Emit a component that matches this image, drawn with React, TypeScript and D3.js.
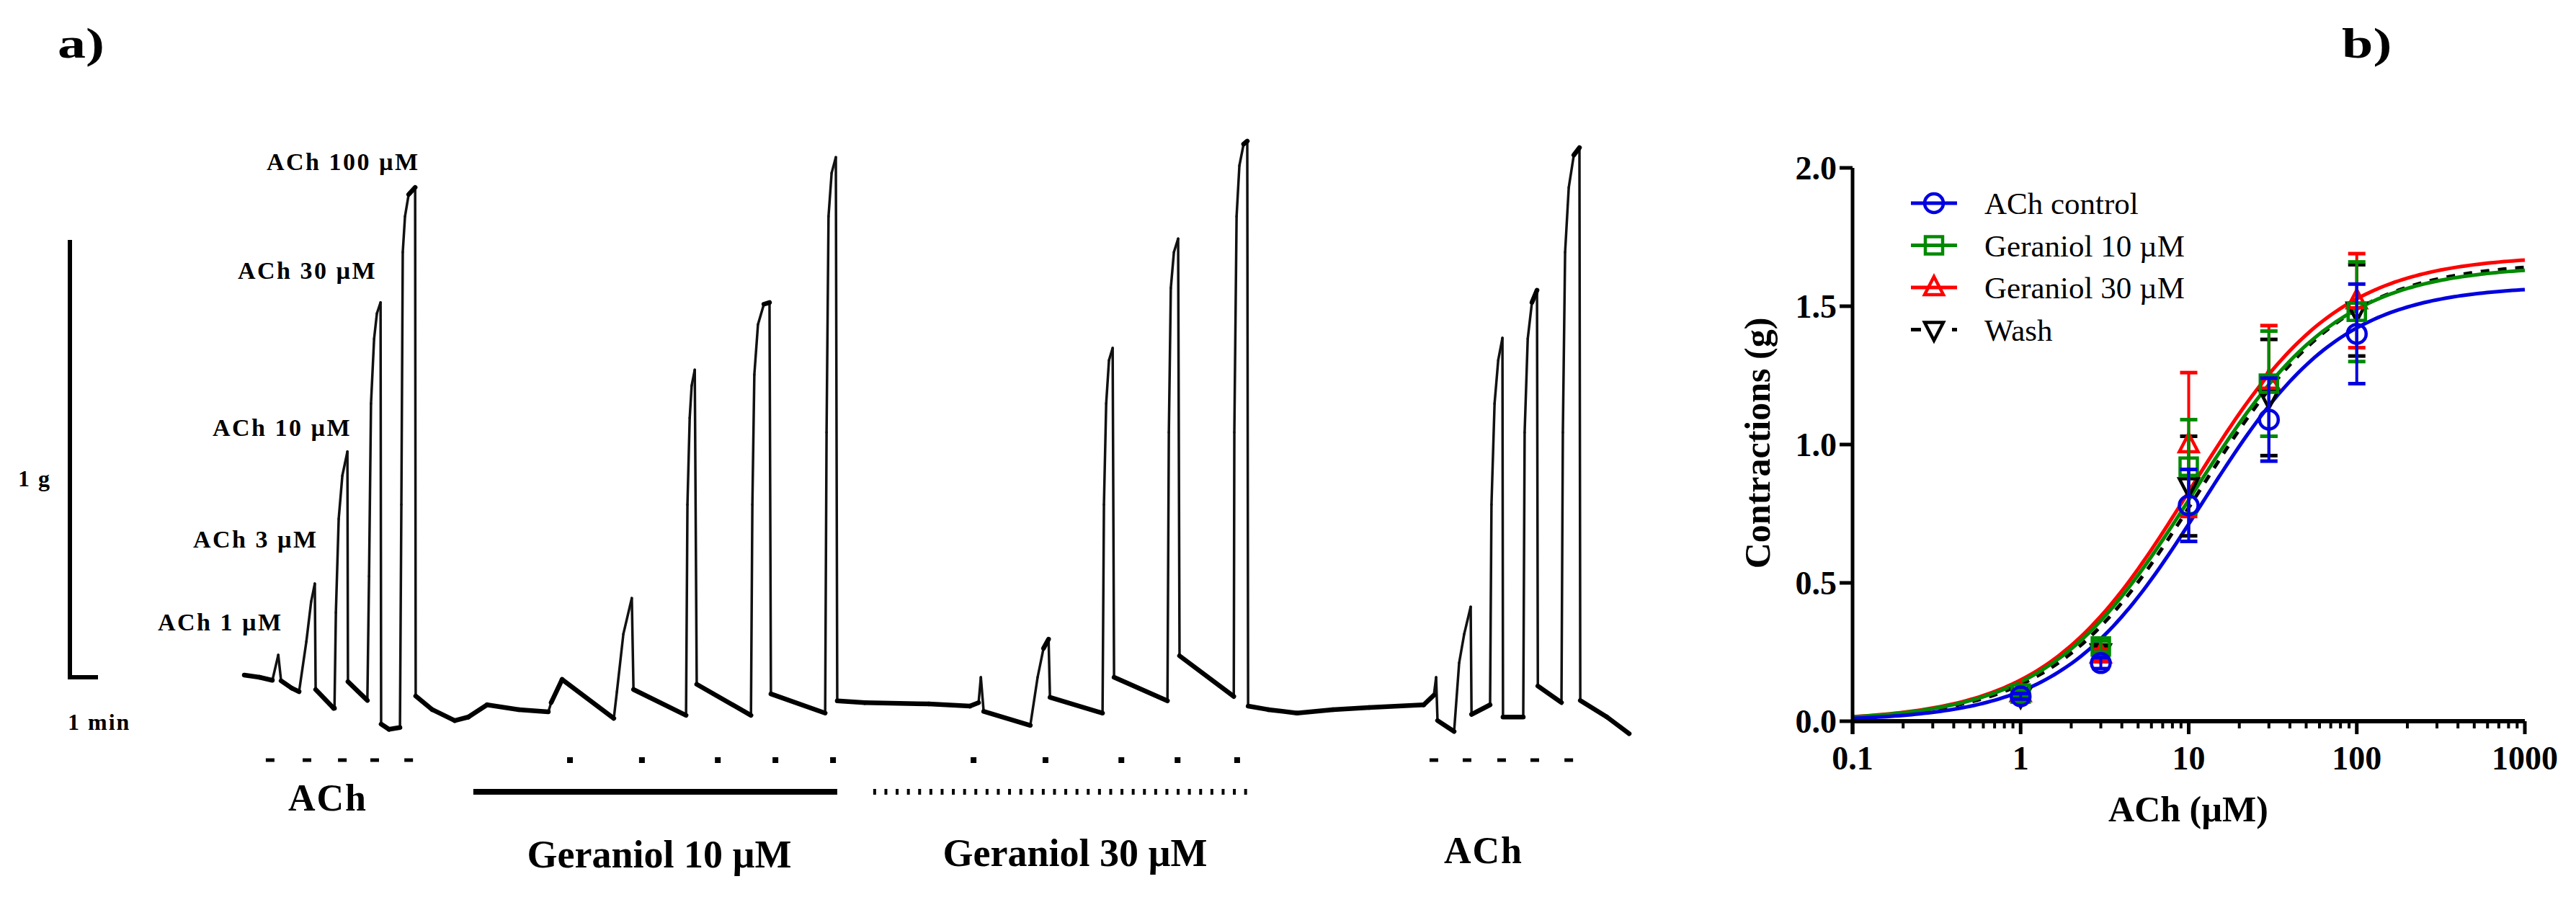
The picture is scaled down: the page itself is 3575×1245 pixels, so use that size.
import React from 'react';
import * as d3 from 'd3';

const W = 3575;
const H = 1245;

// ---------- Panel a: isometric tension trace (time in min, tension in g) ----------
const traceACh: [number, number][] = [
  [0, 0.005], [0.54, 0], [1.0, -0.007], [1.21, 0.051], [1.31, -0.008], [1.69, -0.025], [1.95, -0.033],
  [2.21, 0.082], [2.38, 0.173], [2.51, 0.214], [2.54, -0.028], [3.18, -0.071],
  [3.21, -0.071], [3.26, 0.148], [3.36, 0.362], [3.49, 0.461], [3.67, 0.516], [3.69, -0.01], [4.38, -0.053],
  [4.44, 0.231], [4.51, 0.626], [4.62, 0.774], [4.72, 0.832], [4.85, 0.857], [4.87, -0.107], [5.15, -0.119], [5.54, -0.115],
  [5.59, 0.395], [5.64, 0.972], [5.72, 1.054], [5.85, 1.104], [6.08, 1.12], [6.1, -0.043],
  [6.69, -0.074], [7.49, -0.099], [7.97, -0.091], [8.64, -0.063], [9.77, -0.074], [10.82, -0.079],
];
const traceGer10: [number, number][] = [
  [10.92, -0.058], [11.31, -0.005], [13.15, -0.094],
  [13.26, -0.033], [13.49, 0.099], [13.79, 0.181], [13.85, -0.028], [15.72, -0.087],
  [15.77, 0.395], [15.85, 0.593], [15.92, 0.667], [16.03, 0.703], [16.1, -0.016], [18.03, -0.087],
  [18.08, 0.395], [18.15, 0.692], [18.28, 0.807], [18.49, 0.853], [18.69, 0.857], [18.74, -0.038], [20.67, -0.082],
  [20.72, 0.56], [20.79, 1.054], [20.9, 1.153], [21.05, 1.189], [21.1, -0.054],
  [22.08, -0.058], [24.36, -0.061], [25.82, -0.066],
];
const traceGer30: [number, number][] = [
  [26.13, -0.058], [26.21, 0.0], [26.31, -0.078], [27.97, -0.11],
  [28.23, 0.0], [28.44, 0.066], [28.62, 0.087], [28.67, -0.046], [30.54, -0.082],
  [30.59, 0.395], [30.67, 0.626], [30.77, 0.725], [30.9, 0.753], [30.95, 0.0], [32.85, -0.054],
  [32.9, 0.56], [32.97, 0.89], [33.08, 0.972], [33.23, 1.003], [33.28, 0.049], [35.21, -0.044],
  [35.23, 0.56], [35.31, 1.054], [35.41, 1.17], [35.56, 1.219], [35.69, 1.226], [35.72, -0.066],
  [36.44, -0.074], [37.46, -0.082],
];
const traceWash: [number, number][] = [
  [38.74, -0.074], [40.03, -0.069], [41.97, -0.063], [42.33, -0.041], [42.41, 0.0], [42.46, -0.099], [43.05, -0.124],
  [43.23, 0.033], [43.41, 0.099], [43.64, 0.161], [43.67, -0.085], [44.33, -0.063],
  [44.38, 0.395], [44.49, 0.626], [44.62, 0.725], [44.77, 0.776], [44.79, -0.091], [45.51, -0.091],
  [45.56, 0.56], [45.67, 0.774], [45.82, 0.857], [46.0, 0.885], [46.03, -0.02], [46.87, -0.058],
  [46.92, 0.56], [47.0, 0.972], [47.13, 1.120], [47.31, 1.194], [47.51, 1.211], [47.54, -0.053],
  [48.49, -0.091], [49.28, -0.129],
];
// application marks (min)
const marksACh = [0.92, 2.23, 3.49, 4.64, 5.85];
const marksGer10 = [11.59, 14.15, 16.85, 18.9, 20.95];
const marksGer30 = [25.95, 28.51, 31.21, 33.21, 35.33];
const marksWash = [42.33, 43.51, 44.74, 45.92, 47.13];
const barGer10: [number, number] = [8.15, 21.1];
const barGer30: [number, number] = [22.38, 35.82];
const concLabels = ['ACh 1 µM', 'ACh 3 µM', 'ACh 10 µM', 'ACh 30 µM', 'ACh 100 µM'];

// ---------- Panel b: concentration-response ----------
const doses = [1, 3, 10, 30, 100];
const seriesNames = ['ACh control', 'Geraniol 10 µM', 'Geraniol 30 µM', 'Wash'];
const controlMean = [0.09, 0.21, 0.78, 1.09, 1.4];
const controlSem = [0.01, 0.02, 0.13, 0.15, 0.18];
const ger10Mean = [0.1, 0.27, 0.92, 1.22, 1.48];
const ger10Sem = [0.01, 0.02, 0.17, 0.19, 0.18];
const ger30Mean = [0.1, 0.24, 1.0, 1.23, 1.52];
const ger30Sem = [0.01, 0.02, 0.26, 0.2, 0.17];
const washMean = [0.09, 0.25, 0.85, 1.17, 1.485];
const washSem = [0.01, 0.02, 0.18, 0.21, 0.165];
// fitted Hill parameters (Emax g, EC50 µM, slope)
const fitEmax = [1.575, 1.647, 1.684, 1.659];
const fitEC50 = [12, 10.6, 10.3, 11.5];
const fitSlope = [1.05, 1, 1, 1];
const yTicks = [0, 0.5, 1.0, 1.5, 2.0];
const xTicks = [0.1, 1, 10, 100, 1000];

const colors = ['#0000e0', '#008a00', '#ff0000', '#000000'];
const FONT = '"Liberation Serif", "Times New Roman", serif';

function Marker({ kind, color }: { kind: number; color: string }) {
  const sw = 4.5;
  if (kind === 0) return <circle r={13} fill="none" stroke={color} strokeWidth={sw} />;
  if (kind === 1) return <rect x={-12} y={-12} width={24} height={24} fill="none" stroke={color} strokeWidth={sw} />;
  if (kind === 2) return <path d="M0,-15L13,10L-13,10Z" fill="none" stroke={color} strokeWidth={sw} />;
  return <path d="M0,15L13,-10L-13,-10Z" fill="none" stroke={color} strokeWidth={sw} />;
}

export default function App() {
  // panel a scales
  const xT = d3.scaleLinear().domain([0, 49.28]).range([339, 2261]);
  const yT = d3.scaleLinear().domain([0, 1]).range([940, 333]);
  const trace = [...traceACh, ...traceGer10, ...traceGer30, ...traceWash];
  const segs = d3.pairs(trace).map(([a, b]) => {
    const x1 = xT(a[0]), y1 = yT(a[1]), x2 = xT(b[0]), y2 = yT(b[1]);
    const flat = Math.abs(y2 - y1) <= 2.5 * Math.abs(x2 - x1);
    return { x1, y1, x2, y2, flat };
  });
  const markY = 1055;
  const barY = 1099;
  const minPx = xT(1) - xT(0);

  const labelPos = [
    [219, 875], [268, 760], [295, 605], [330, 387], [370, 236],
  ];

  // panel b scales
  const xL = d3.scaleLog().domain([0.1, 1000]).range([2571, 3504]);
  const yL = d3.scaleLinear().domain([0, 2]).range([1001, 233]);
  const means = [controlMean, ger10Mean, ger30Mean, washMean];
  const sems = [controlSem, ger10Sem, ger30Sem, washSem];
  const samples = d3.range(0, 161).map((i) => Math.pow(10, -1 + (4 * i) / 160));
  const curve = (s: number) =>
    d3.line<number>().x((x) => xL(x)).y((x) => yL(fitEmax[s] / (1 + Math.pow(fitEC50[s] / x, fitSlope[s]))))(samples) || '';
  const minorTicks: number[] = [];
  [0.1, 1, 10, 100].forEach((d) => { for (let k = 2; k <= 9; k++) minorTicks.push(d * k); });
  const drawOrder = [3, 2, 1, 0];

  return (
    <svg width={W} height={H} style={{ position: 'absolute', left: 0, top: 0, background: '#fff' }} fontFamily={FONT}>
      <rect width={W} height={H} fill="#fff" />
      {/* ---------- Panel a ---------- */}
      <text transform="translate(80,80) scale(1.3,1)" fontSize={60} fontWeight="bold">a)</text>
      {/* scale bar */}
      <path d={`M97,${yT(1)}L97,${yT(0)}L${97 + minPx},${yT(0)}`} fill="none" stroke="#000" strokeWidth={6} />
      <text x={25} y={675} fontSize={32} fontWeight="bold" letterSpacing={2}>1 g</text>
      <text x={94} y={1013} fontSize={32} fontWeight="bold" letterSpacing={2}>1 min</text>
      {concLabels.map((t, i) => (
        <text key={t} x={labelPos[i][0]} y={labelPos[i][1]} fontSize={34} fontWeight="bold" letterSpacing={2.5}>{t}</text>
      ))}
      {segs.filter((s) => !s.flat).map((s, i) => (
        <line key={'v' + i} x1={s.x1} y1={s.y1} x2={s.x2} y2={s.y2} stroke="#111" strokeWidth={3.5} strokeLinecap="round" />
      ))}
      {segs.filter((s) => s.flat).map((s, i) => (
        <line key={'f' + i} x1={s.x1} y1={s.y1} x2={s.x2} y2={s.y2} stroke="#000" strokeWidth={6.5} strokeLinecap="round" />
      ))}
      {marksACh.map((m, i) => (
        <line key={'a' + i} x1={xT(m) - 6} x2={xT(m) + 6} y1={markY} y2={markY} stroke="#000" strokeWidth={5} />
      ))}
      {marksWash.map((m, i) => (
        <line key={'w' + i} x1={xT(m) - 6} x2={xT(m) + 6} y1={markY} y2={markY} stroke="#000" strokeWidth={5} />
      ))}
      {[...marksGer10, ...marksGer30].map((m, i) => (
        <rect key={'g' + i} x={xT(m) - 4} y={markY - 4} width={8} height={8} fill="#000" />
      ))}
      <line x1={xT(barGer10[0])} x2={xT(barGer10[1])} y1={barY} y2={barY} stroke="#000" strokeWidth={8} />
      <line x1={xT(barGer30[0])} x2={xT(barGer30[1])} y1={barY} y2={barY} stroke="#000" strokeWidth={8} strokeDasharray="4 11.6" />
      <text x={455} y={1125} fontSize={52} fontWeight="bold" textAnchor="middle" letterSpacing={2}>ACh</text>
      <text x={915} y={1204} fontSize={54} fontWeight="bold" textAnchor="middle">Geraniol 10 µM</text>
      <text x={1492} y={1202} fontSize={54} fontWeight="bold" textAnchor="middle">Geraniol 30 µM</text>
      <text x={2059} y={1198} fontSize={52} fontWeight="bold" textAnchor="middle" letterSpacing={2}>ACh</text>

      {/* ---------- Panel b ---------- */}
      <text transform="translate(3250,80) scale(1.3,1)" fontSize={60} fontWeight="bold">b)</text>
      {/* fitted curves */}
      {drawOrder.map((s) => (
        <path key={'c' + s} d={curve(s)} fill="none" stroke={colors[s]} strokeWidth={5}
          strokeDasharray={s === 3 ? '12 12' : undefined} />
      ))}
      {/* error bars and markers */}
      {drawOrder.map((s) => (
        <g key={'p' + s}>
          {doses.map((d, i) => {
            const cx = xL(d);
            const top = yL(means[s][i] + sems[s][i]);
            const bot = yL(means[s][i] - sems[s][i]);
            return (
              <g key={i}>
                <line x1={cx} x2={cx} y1={top} y2={bot} stroke={colors[s]} strokeWidth={4} />
                <line x1={cx - 12} x2={cx + 12} y1={top} y2={top} stroke={colors[s]} strokeWidth={5} />
                <line x1={cx - 12} x2={cx + 12} y1={bot} y2={bot} stroke={colors[s]} strokeWidth={5} />
                <g transform={`translate(${cx},${yL(means[s][i])})`}>
                  <Marker kind={s} color={colors[s]} />
                </g>
              </g>
            );
          })}
        </g>
      ))}
      {/* axes */}
      <line x1={xL(0.1)} x2={xL(0.1)} y1={yL(2)} y2={yL(0) + 18} stroke="#000" strokeWidth={5} />
      <line x1={xL(0.1)} x2={xL(1000)} y1={yL(0)} y2={yL(0)} stroke="#000" strokeWidth={6} />
      {yTicks.map((t) => (
        <g key={'y' + t}>
          <line x1={xL(0.1) - 18} x2={xL(0.1)} y1={yL(t)} y2={yL(t)} stroke="#000" strokeWidth={5} />
          <text x={xL(0.1) - 22} y={yL(t) + 16} fontSize={46} fontWeight="bold" textAnchor="end">{t.toFixed(1)}</text>
        </g>
      ))}
      {xTicks.map((t) => (
        <g key={'x' + t}>
          <line x1={xL(t)} x2={xL(t)} y1={yL(0)} y2={yL(0) + 18} stroke="#000" strokeWidth={5} />
          <text x={xL(t)} y={1068} fontSize={46} fontWeight="bold" textAnchor="middle">{String(t)}</text>
        </g>
      ))}
      {minorTicks.map((t, i) => (
        <line key={'m' + i} x1={xL(t)} x2={xL(t)} y1={yL(0)} y2={yL(0) + 10} stroke="#000" strokeWidth={4} />
      ))}
      <text x={3037} y={1140} fontSize={50} fontWeight="bold" textAnchor="middle">ACh (µM)</text>
      <text transform="translate(2456,615) rotate(-90)" fontSize={50} fontWeight="bold" textAnchor="middle">Contractions (g)</text>
      {/* legend */}
      {seriesNames.map((n, s) => {
        const ly = 282 + s * 58.5;
        return (
          <g key={n}>
            <line x1={2652} x2={2716} y1={ly} y2={ly} stroke={colors[s]} strokeWidth={5}
              strokeDasharray={s === 3 ? '14 43 7' : undefined} />
            <g transform={`translate(2684,${ly})`}>
              <Marker kind={s} color={colors[s]} />
            </g>
            <text x={2754} y={ly + 15} fontSize={43}>{n}</text>
          </g>
        );
      })}
    </svg>
  );
}
